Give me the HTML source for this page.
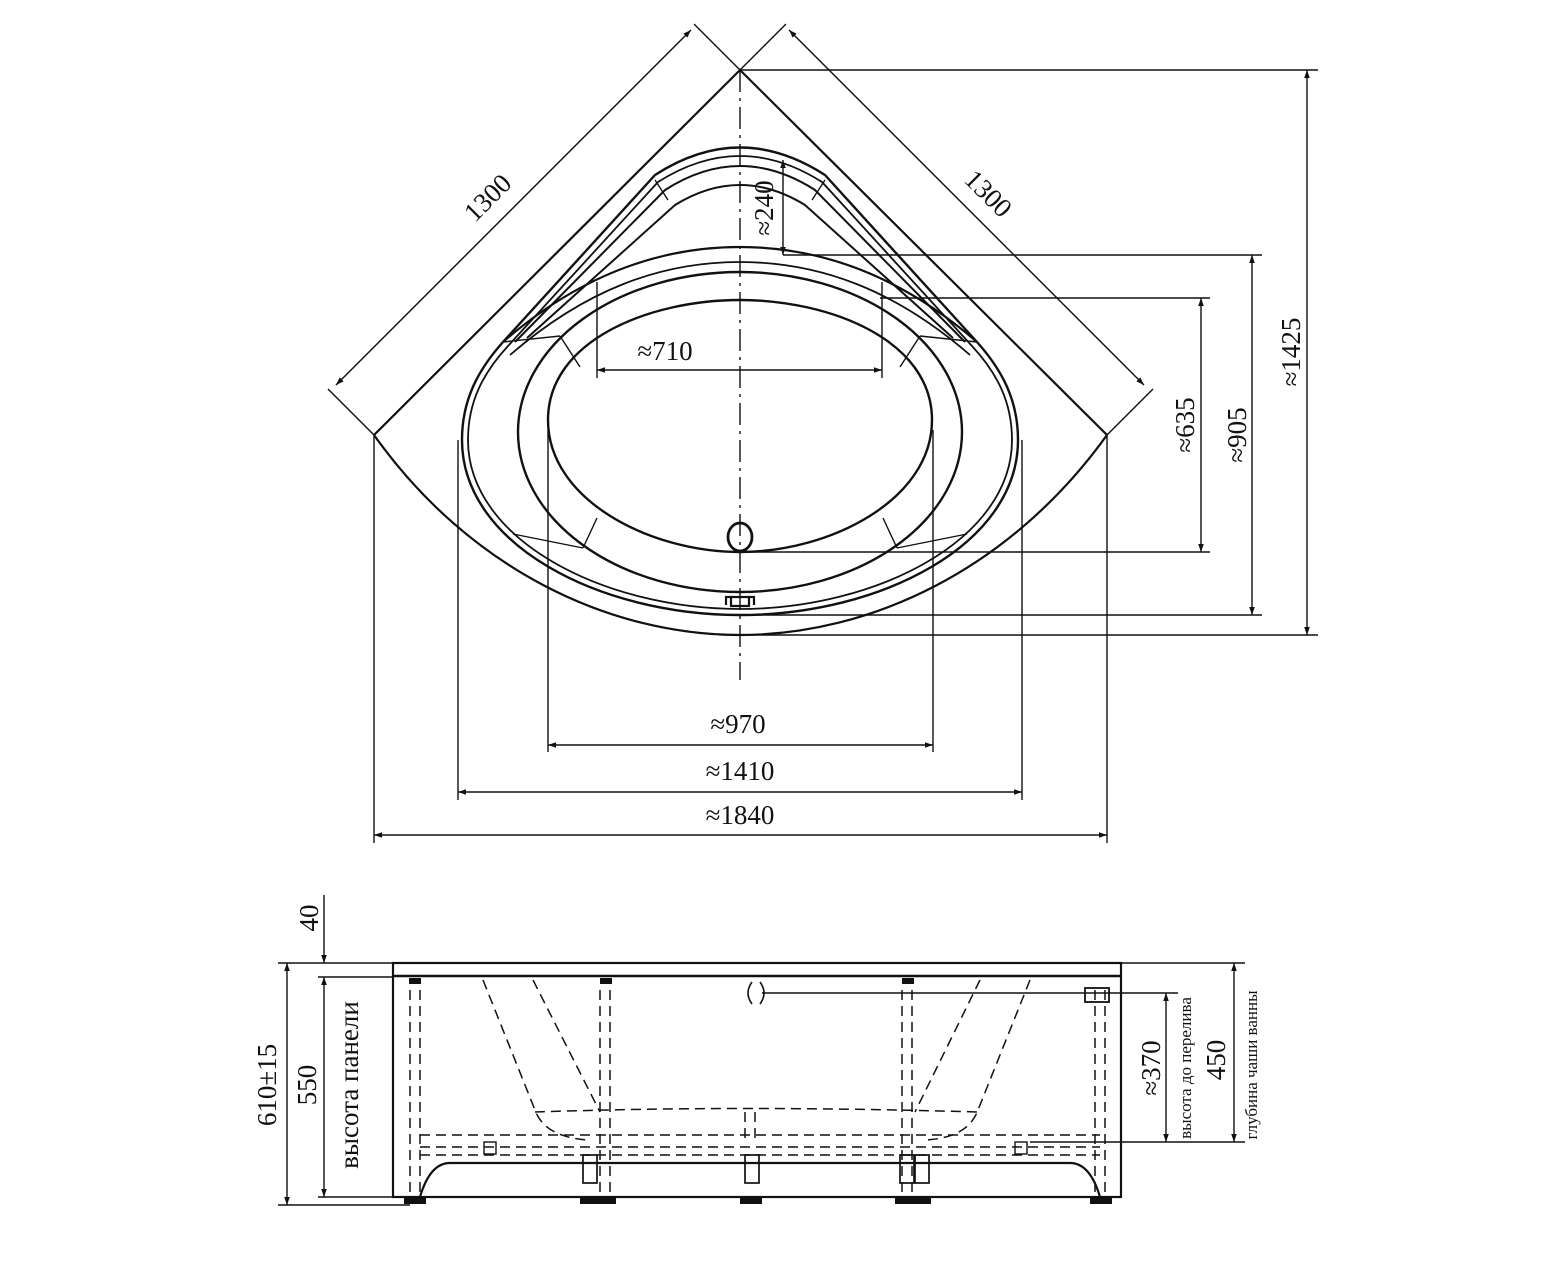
<!DOCTYPE html>
<html><head><meta charset="utf-8"><style>
html,body{margin:0;padding:0;background:#fff}
svg{display:block}
text{font-family:"Liberation Serif",serif;fill:#111}
</style></head><body>
<svg width="1565" height="1280" viewBox="0 0 1565 1280" xmlns="http://www.w3.org/2000/svg">
<defs>
<marker id="a" viewBox="0 0 10 10" refX="10" refY="5" markerWidth="16" markerHeight="8" markerUnits="userSpaceOnUse" orient="auto-start-reverse"><path d="M0,1.5 L10,5 L0,8.5 z" fill="#111"/></marker>
</defs>
<g stroke="#111" fill="none" stroke-width="1.4">
<path d="M374,435 L740,70 L1107,435" stroke-width="2.2"/>
<path d="M374,435 C470,570 610,635 740,635 C870,635 1010,570 1107,435" stroke-width="2.2"/>
<line x1="374" y1="435" x2="328" y2="389"/>
<line x1="740" y1="70" x2="694" y2="24"/>
<line x1="740" y1="70" x2="786" y2="24"/>
<line x1="1107" y1="435" x2="1153" y2="389"/>
<line x1="336" y1="385" x2="691" y2="30" marker-start="url(#a)" marker-end="url(#a)"/>
<line x1="789" y1="30" x2="1144" y2="385" marker-start="url(#a)" marker-end="url(#a)"/>
<path d="M462,440 C462,400 478,370 503,342 L655,175 Q740,120 825,175 L977,342 C1002,370 1018,400 1018,440 C1018,545 880,615 740,615 C600,615 462,545 462,440 Z" stroke-width="2.4"/>
<path d="M468,440 C468,402 483,373 508,346 L658,182 Q740,130 822,182 L972,346 C997,373 1012,402 1012,440 C1012,540 876,609 740,609 C604,609 468,540 468,440 Z" stroke-width="1.8"/>
<path d="M515,342 L665,190 Q740,142 815,190 L965,342" stroke-width="2"/>
<path d="M527,338 L675,205 Q740,165 805,205 L953,338" stroke-width="2"/>
<line x1="655" y1="180" x2="668" y2="200"/>
<line x1="825" y1="180" x2="812" y2="200"/>
<path d="M503,342 C580,275 660,247 740,247 C820,247 900,275 977,342" stroke-width="2.2"/>
<path d="M510,355 C585,290 660,262 740,262 C820,262 895,290 970,355" stroke-width="1.8"/>
<ellipse cx="740" cy="432" rx="222" ry="160" stroke-width="2.4"/>
<path d="M548,420 C548,340 650,300 740,300 C830,300 932,340 932,420 C932,500 830,552 740,552 C650,552 548,500 548,420 Z" stroke-width="2.4"/>
<line x1="503" y1="342" x2="560" y2="336"/><line x1="560" y1="336" x2="580" y2="367"/>
<line x1="977" y1="342" x2="920" y2="336"/><line x1="920" y1="336" x2="900" y2="367"/>
<line x1="513" y1="534" x2="583" y2="548"/><line x1="583" y1="548" x2="597" y2="518"/>
<line x1="967" y1="534" x2="897" y2="548"/><line x1="897" y1="548" x2="883" y2="518"/>
<ellipse cx="740" cy="537" rx="12" ry="14" stroke-width="2.8"/>
<path d="M726,605 L726,597 L754,597 L754,605 M731,597 L731,606 L749,606 L749,597" stroke-width="2.2"/>
<line x1="740" y1="70" x2="740" y2="680" stroke-dasharray="22,6,3,6"/>
<line x1="597" y1="282" x2="597" y2="378"/>
<line x1="882" y1="282" x2="882" y2="378"/>
<line x1="597" y1="370" x2="882" y2="370" marker-start="url(#a)" marker-end="url(#a)"/>
<line x1="783" y1="160" x2="783" y2="255" marker-start="url(#a)" marker-end="url(#a)"/>
<line x1="740" y1="70" x2="1318" y2="70"/>
<line x1="783" y1="255" x2="1262" y2="255"/>
<line x1="880" y1="298" x2="1210" y2="298"/>
<line x1="750" y1="552" x2="1210" y2="552"/>
<line x1="745" y1="615" x2="1262" y2="615"/>
<line x1="740" y1="635" x2="1318" y2="635"/>
<line x1="1201" y1="298" x2="1201" y2="552" marker-start="url(#a)" marker-end="url(#a)"/>
<line x1="1252" y1="255" x2="1252" y2="615" marker-start="url(#a)" marker-end="url(#a)"/>
<line x1="1307" y1="70" x2="1307" y2="635" marker-start="url(#a)" marker-end="url(#a)"/>
<line x1="548" y1="430" x2="548" y2="752"/><line x1="933" y1="430" x2="933" y2="752"/>
<line x1="458" y1="440" x2="458" y2="800"/><line x1="1022" y1="440" x2="1022" y2="800"/>
<line x1="374" y1="435" x2="374" y2="843"/><line x1="1107" y1="435" x2="1107" y2="843"/>
<line x1="548" y1="745" x2="933" y2="745" marker-start="url(#a)" marker-end="url(#a)"/>
<line x1="458" y1="792" x2="1022" y2="792" marker-start="url(#a)" marker-end="url(#a)"/>
<line x1="374" y1="835" x2="1107" y2="835" marker-start="url(#a)" marker-end="url(#a)"/>

<rect x="393" y="963" width="728" height="234" stroke-width="2.2"/>
<line x1="393" y1="976" x2="1121" y2="976" stroke-width="2.4"/>
<line x1="278" y1="963" x2="1245" y2="963"/>
<line x1="318" y1="977" x2="393" y2="977"/>
<line x1="318" y1="1197" x2="393" y2="1197"/>
<line x1="278" y1="1205" x2="410" y2="1205"/>
<line x1="287" y1="963" x2="287" y2="1205" marker-start="url(#a)" marker-end="url(#a)"/>
<line x1="324" y1="977" x2="324" y2="1197" marker-start="url(#a)" marker-end="url(#a)"/>
<line x1="324" y1="895" x2="324" y2="963" marker-end="url(#a)"/>
<line x1="762" y1="993" x2="1178" y2="993"/>
<line x1="1030" y1="1142" x2="1245" y2="1142"/>
<line x1="1166" y1="993" x2="1166" y2="1142" marker-start="url(#a)" marker-end="url(#a)"/>
<line x1="1234" y1="963" x2="1234" y2="1142" marker-start="url(#a)" marker-end="url(#a)"/>
<path d="M752,982 Q744,993 752,1004 M760,982 Q768,993 760,1004" stroke-width="1.6"/>
<path d="M420,1197 Q430,1163 450,1163 L1070,1163 Q1090,1163 1100,1197" stroke-width="2.2"/>
<g stroke-dasharray="10,6" stroke-width="1.5">
<path d="M483,980 L535,1110 Q545,1138 590,1140"/>
<path d="M533,980 L600,1112"/>
<path d="M1030,980 L978,1110 Q968,1138 925,1140"/>
<path d="M980,980 L915,1112"/>
<path d="M535,1112 Q740,1105 978,1112"/>
<path d="M420,1135 L1100,1135"/>
<path d="M420,1147 L1100,1147"/>
<path d="M420,1155 L1100,1155"/>
<line x1="410" y1="990" x2="410" y2="1195"/><line x1="420" y1="990" x2="420" y2="1195"/>
<line x1="600" y1="990" x2="600" y2="1195"/><line x1="610" y1="990" x2="610" y2="1195"/>
<line x1="902" y1="990" x2="902" y2="1195"/><line x1="912" y1="990" x2="912" y2="1195"/>
<line x1="1095" y1="990" x2="1095" y2="1195"/><line x1="1105" y1="990" x2="1105" y2="1195"/>
<line x1="745" y1="1112" x2="745" y2="1140"/><line x1="755" y1="1112" x2="755" y2="1140"/>
</g>
<rect x="1085" y="988" width="24" height="14" stroke-width="1.8"/>
<rect x="484" y="1142" width="12" height="12"/><rect x="1015" y="1142" width="12" height="12"/>
<g stroke-width="1.7">
<rect x="583" y="1155" width="14" height="28"/><rect x="745" y="1155" width="14" height="28"/><rect x="900" y="1155" width="14" height="28"/><rect x="915" y="1155" width="14" height="28"/>
</g>
<g fill="#111" stroke="none">
<rect x="404" y="1198" width="22" height="6"/><rect x="580" y="1198" width="36" height="6"/><rect x="740" y="1198" width="22" height="6"/><rect x="895" y="1198" width="36" height="6"/><rect x="1090" y="1198" width="22" height="6"/>
<rect x="409" y="978" width="12" height="6"/><rect x="600" y="978" width="12" height="6"/><rect x="902" y="978" width="12" height="6"/>
</g>
</g>
<g font-size="27">
<text transform="translate(494,204) rotate(-45)" text-anchor="middle">1300</text>
<text transform="translate(982,200) rotate(45)" text-anchor="middle">1300</text>
<text transform="translate(773,208) rotate(-90)" text-anchor="middle">≈240</text>
<text x="665" y="360" text-anchor="middle">≈710</text>
<text transform="translate(1194,425) rotate(-90)" text-anchor="middle">≈635</text>
<text transform="translate(1246,435) rotate(-90)" text-anchor="middle">≈905</text>
<text transform="translate(1300,352) rotate(-90)" text-anchor="middle">≈1425</text>
<text x="738" y="733" text-anchor="middle">≈970</text>
<text x="740" y="780" text-anchor="middle">≈1410</text>
<text x="740" y="824" text-anchor="middle">≈1840</text>
<text transform="translate(318,918) rotate(-90)" text-anchor="middle">40</text>
<text transform="translate(276,1085) rotate(-90)" text-anchor="middle">610±15</text>
<text transform="translate(316,1085) rotate(-90)" text-anchor="middle">550</text>
<text transform="translate(358,1085) rotate(-90)" text-anchor="middle">высота панели</text>
<text transform="translate(1160,1068) rotate(-90)" text-anchor="middle">≈370</text>
<text transform="translate(1225,1060) rotate(-90)" text-anchor="middle">450</text>
</g>
<g font-size="17">
<text transform="translate(1191,1068) rotate(-90)" text-anchor="middle">высота до перелива</text>
<text transform="translate(1257,1065) rotate(-90)" text-anchor="middle">глубина чаши ванны</text>
</g>
</svg>
</body></html>
